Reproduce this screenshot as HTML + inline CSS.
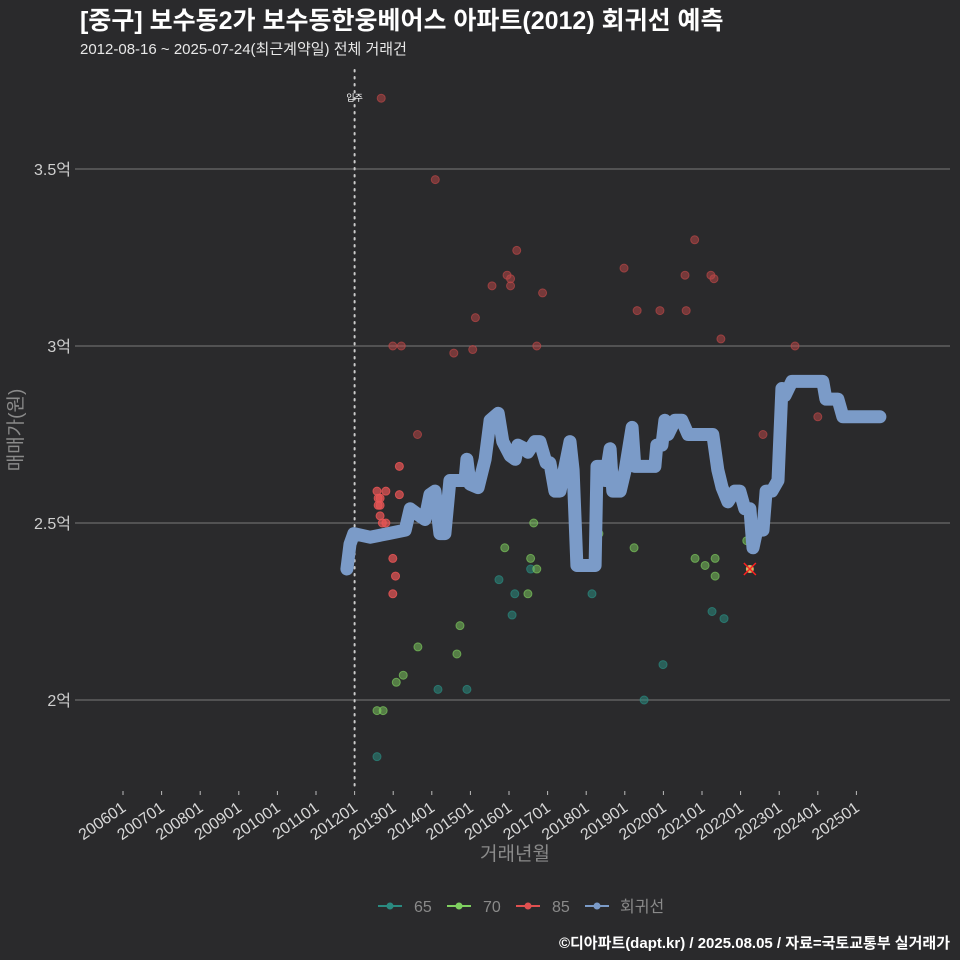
<!DOCTYPE html>
<html><head><meta charset="utf-8"><style>
body{margin:0;background:#2a2a2c;}
svg{display:block;font-family:"Liberation Sans","Noto Sans CJK KR",sans-serif;}
</style></head><body>
<svg id="chart" width="960" height="960" xmlns="http://www.w3.org/2000/svg">
<rect width="960" height="960" fill="#2a2a2c"/>
<text x="80" y="29" fill="#ffffff" font-size="25" font-weight="bold">[중구] 보수동2가 보수동한웅베어스 아파트(2012) 회귀선 예측</text>
<text x="80" y="54" fill="#e8e8e8" font-size="15">2012-08-16 ~ 2025-07-24(최근계약일) 전체 거래건</text>
<g id="grid"></g>
<g id="yaxis"></g>
<g id="xaxis"></g>
<g id="points"></g>
<g id="reg"></g>
<text transform="translate(22,430) rotate(-90)" text-anchor="middle" fill="#8a8a8a" font-size="19">매매가(원)</text>
<text x="515" y="860" text-anchor="middle" fill="#8a8a8a" font-size="19">거래년월</text>
<g font-size="16" fill="#8a8a8a">
 <g><line x1="378" y1="906" x2="402" y2="906" stroke="#2a8a80" stroke-width="2"/><circle cx="390" cy="906" r="3.5" fill="#2a8a80"/><text x="414" y="912">65</text></g>
 <g><line x1="447" y1="906" x2="471" y2="906" stroke="#7fd060" stroke-width="2"/><circle cx="459" cy="906" r="3.5" fill="#7fd060"/><text x="483" y="912">70</text></g>
 <g><line x1="516" y1="906" x2="540" y2="906" stroke="#e05050" stroke-width="2"/><circle cx="528" cy="906" r="3.5" fill="#e05050"/><text x="552" y="912">85</text></g>
 <g><line x1="585" y1="906" x2="609" y2="906" stroke="#7b9bc8" stroke-width="2"/><circle cx="597" cy="906" r="3.5" fill="#7b9bc8"/><text x="620" y="912">회귀선</text></g>
</g>
<text x="950" y="948" text-anchor="end" fill="#ffffff" font-size="15" font-weight="bold">©디아파트(dapt.kr) / 2025.08.05 / 자료=국토교통부 실거래가</text>
</svg>
<script>
const yTicks=[2,2.5,3,3.5];
const yTickLabels=["2억","2.5억","3억","3.5억"];
const xTickYears=[2006,2007,2008,2009,2010,2011,2012,2013,2014,2015,2016,2017,2018,2019,2020,2021,2022,2023,2024,2025];
const moveInYear=2012.0;
const regT=[2011.80,2011.88,2011.98,2012.40,2012.87,2013.31,2013.44,2013.69,2013.82,2013.95,2014.08,2014.21,2014.34,2014.47,2014.86,2014.91,2014.99,2015.20,2015.38,2015.51,2015.72,2015.84,2016.03,2016.16,2016.23,2016.41,2016.49,2016.67,2016.80,2016.96,2017.06,2017.19,2017.32,2017.45,2017.58,2017.66,2017.76,2018.23,2018.28,2018.41,2018.49,2018.62,2018.69,2018.88,2019.01,2019.19,2019.26,2019.78,2019.83,2019.96,2020.04,2020.12,2020.30,2020.48,2020.64,2021.28,2021.41,2021.52,2021.67,2021.85,2021.98,2022.11,2022.24,2022.32,2022.42,2022.58,2022.66,2022.81,2022.97,2023.07,2023.15,2023.33,2024.13,2024.21,2024.52,2024.65,2025.61];
const regV=[2.37,2.44,2.47,2.46,2.47,2.48,2.54,2.52,2.51,2.58,2.59,2.47,2.47,2.62,2.62,2.68,2.61,2.60,2.68,2.79,2.81,2.73,2.69,2.68,2.72,2.71,2.70,2.73,2.73,2.67,2.67,2.59,2.59,2.66,2.73,2.65,2.38,2.38,2.66,2.66,2.62,2.71,2.59,2.59,2.65,2.77,2.66,2.66,2.72,2.72,2.79,2.75,2.79,2.79,2.75,2.75,2.65,2.60,2.56,2.59,2.59,2.54,2.54,2.43,2.48,2.48,2.59,2.59,2.62,2.88,2.86,2.90,2.90,2.85,2.85,2.80,2.80];
const p85T=[2012.69,2014.09,2012.99,2013.21,2013.63,2014.57,2015.06,2015.13,2015.56,2015.95,2016.04,2016.04,2016.20,2016.72,2016.87,2018.98,2019.32,2019.91,2020.56,2020.59,2020.81,2021.23,2021.31,2021.49,2023.41,2024.00,2022.58,2012.58,2012.81,2012.61,2012.66,2012.61,2012.66,2012.66,2012.72,2012.81,2013.16,2013.16,2012.99,2013.06,2012.99];
const p85V=[3.70,3.47,3.00,3.00,2.75,2.98,2.99,3.08,3.17,3.20,3.19,3.17,3.27,3.00,3.15,3.22,3.10,3.10,3.20,3.10,3.30,3.20,3.19,3.02,3.00,2.80,2.75,2.59,2.59,2.57,2.57,2.55,2.55,2.52,2.50,2.50,2.66,2.58,2.40,2.35,2.30];
const p70T=[2016.64,2015.89,2016.56,2016.72,2016.49,2014.73,2013.64,2014.65,2013.26,2013.08,2012.58,2012.74,2018.33,2019.24,2020.82,2021.08,2021.34,2021.34,2022.16];
const p70V=[2.50,2.43,2.40,2.37,2.30,2.21,2.15,2.13,2.07,2.05,1.97,1.97,2.47,2.43,2.40,2.38,2.40,2.35,2.45];
const p65T=[2015.74,2016.15,2016.08,2016.56,2014.16,2014.91,2018.15,2012.58,2021.26,2021.57,2019.99,2019.50];
const p65V=[2.34,2.30,2.24,2.37,2.03,2.03,2.30,1.84,2.25,2.23,2.10,2.00];
const latestT=[2022.24];
const latestV=[2.37];

const NS="http://www.w3.org/2000/svg";
const xS=t=>123+(t-2006)*38.6;
const yS=v=>700-(v-2)*354;
function mk(tag,attrs,parent){const e=document.createElementNS(NS,tag);for(const k in attrs)e.setAttribute(k,attrs[k]);parent.appendChild(e);return e;}
const grid=document.getElementById('grid'),ya=document.getElementById('yaxis'),xa=document.getElementById('xaxis'),pts=document.getElementById('points'),reg=document.getElementById('reg');
yTicks.forEach((v,i)=>{
  const l=mk('line',{x1:75,x2:950,y1:yS(v),y2:yS(v),stroke:'#7a7a7a','stroke-width':1},grid);
  
  
  const t=mk('text',{x:71,y:yS(v)+6,'text-anchor':'end',fill:'#cfcfcf','font-size':16},ya);
  t.textContent=yTickLabels[i];
  
  
});
xTickYears.forEach(y=>{
  const x=xS(y);
  const tk=mk('line',{x1:x,x2:x,y1:791,y2:795,stroke:'#bbbbbb','stroke-width':1},xa);
  
  
  const t=mk('text',{x:0,y:0,'text-anchor':'end',fill:'#d8d8d8','font-size':16,transform:`translate(${x+4},${810}) rotate(-35)`},xa);
  t.textContent=y+'01';
  
  
});
const mv=mk('line',{x1:xS(moveInYear),x2:xS(moveInYear),y1:70,y2:790,stroke:'#cccccc','stroke-width':2,'stroke-dasharray':'1.5 5.5','stroke-linecap':'round'},grid);


const mt=mk('text',{x:xS(moveInYear),y:101,'text-anchor':'middle',fill:'#ffffff','font-size':9},grid);
mt.textContent='입주';


function drawPts(T,V,col,op,name){
  T.forEach((t,i)=>{
    const c=mk('circle',{cx:xS(t),cy:yS(V[i]),r:4,fill:col,'fill-opacity':op,stroke:col,'stroke-opacity':op+0.15,'stroke-width':1},pts);
    
    
  });
}
drawPts(p65T,p65V,'#2a8a80',0.55,'point-65');
drawPts(p70T,p70V,'#7fd060',0.5,'point-70');
drawPts(p85T.slice(0,27),p85V.slice(0,27),'#c04848',0.5,'point-85');
drawPts(p85T.slice(27),p85V.slice(27),'#e85555',0.7,'point-85');
const d=regT.map((t,i)=>(i?'L':'M')+xS(t).toFixed(1)+','+yS(regV[i]).toFixed(1)).join(' ');
const rp=mk('path',{d:d,fill:'none',stroke:'#7b9bc8','stroke-width':13,'stroke-linejoin':'round','stroke-linecap':'round'},reg);


latestT.forEach((t,i)=>{
  const x=xS(t),y=yS(latestV[i]);
  const g=mk('g',{},reg);
  
  
  mk('circle',{cx:x,cy:y,r:4,fill:'#d0b060'},g);
  mk('line',{x1:x-6,y1:y-6,x2:x+6,y2:y+6,stroke:'#ff2020','stroke-width':1.5},g);
  mk('line',{x1:x-6,y1:y+6,x2:x+6,y2:y-6,stroke:'#ff2020','stroke-width':1.5},g);
});
</script>
</body></html>
